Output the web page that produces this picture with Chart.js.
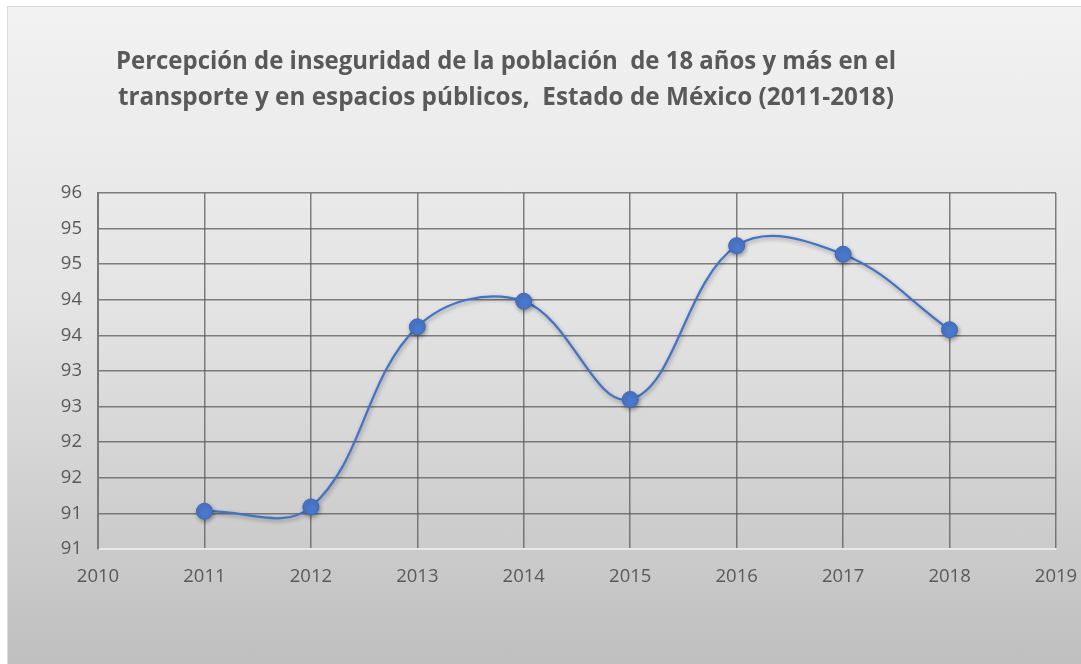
<!DOCTYPE html>
<html>
<head>
<meta charset="utf-8">
<script src="https://cdn.jsdelivr.net/npm/chart.js@4.4.1/dist/chart.umd.min.js"></script>
<style>
  html, body { margin: 0; padding: 0; background: #ffffff; }
  #wrap {
    position: absolute; left: 7px; top: 6px; width: 1074px; height: 658px;
    border-left: 1px solid #d9d9d9; border-top: 1px solid #d9d9d9;
    background: linear-gradient(to bottom, #f2f2f2 0%, #e4e4e4 45%, #bfbfbf 100%);
  }
  canvas { display: block; }
</style>
</head>
<body>
<div id="wrap"><canvas id="c" width="1074" height="658"></canvas></div>
<script>
const titleLines = [
  'Percepción de inseguridad de la población  de 18 años y más en el',
  'transporte y en espacios públicos,  Estado de México (2011-2018)'
];
const years = [2011, 2012, 2013, 2014, 2015, 2016, 2017, 2018];
const values = [91.53, 91.59, 94.12, 94.48, 93.1, 95.26, 95.14, 94.08];
const xMin = 2010, xMax = 2019;
const yMin = 91, yMax = 96, yStep = 0.5;

const titlePlugin = {
  id: 'titleDraw',
  afterDraw(chart) {
    const ctx = chart.ctx;
    ctx.save();
    ctx.fillStyle = '#595959';
    ctx.textAlign = 'center';
    ctx.textBaseline = 'middle';
    const fs = 25;
    ctx.font = 'bold ' + fs + 'px "Open Sans", sans-serif';
    const cx = 498;
    const ys = [55, 91];
    titleLines.forEach((t, i) => {
      const w = ctx.measureText(t).width;
      const target = i === 0 ? 780 : 776;
      const sx = target / w;
      ctx.save();
      ctx.translate(cx, ys[i]);
      ctx.scale(sx, 1);
      ctx.fillText(t, 0, 0);
      ctx.restore();
    });
    ctx.restore();
  }
};

const shadowPlugin = {
  id: 'shadow',
  beforeDatasetsDraw(chart) {
    const ctx = chart.ctx;
    ctx.save();
    ctx.shadowColor = 'rgba(0,0,0,0.35)';
    ctx.shadowBlur = 4;
    ctx.shadowOffsetX = 1;
    ctx.shadowOffsetY = 2;
  },
  afterDatasetsDraw(chart) {
    chart.ctx.restore();
  }
};

const tickFont = { family: '"Open Sans", sans-serif', size: 18.5 };

new Chart(document.getElementById('c'), {
  type: 'line',
  data: {
    datasets: [{
      data: years.map((y, i) => ({ x: y, y: values[i] })),
      borderColor: '#4472c4',
      borderWidth: 2.25,
      tension: 0.38,
      pointRadius: 8,
      pointBackgroundColor: '#4a78cc',
      pointBorderColor: '#3f69b6',
      pointBorderWidth: 1,
      fill: false
    }]
  },
  options: {
    responsive: false,
    animation: false,
    events: [],
    layout: { padding: { left: 0, right: 26, top: 186, bottom: 68 } },
    plugins: { legend: { display: false }, title: { display: false }, tooltip: { enabled: false } },
    scales: {
      x: {
        type: 'linear', min: xMin, max: xMax,
        afterFit: s => { s.height = 48; s.paddingRight = 0; s.paddingLeft = 0; },
        ticks: { stepSize: 1, color: '#595959', font: tickFont, padding: 17, callback: v => String(v) },
        grid: { color: 'rgba(90,90,90,0.75)', lineWidth: 1.5, drawTicks: false },
        border: { color: '#e8e8e8', width: 2 }
      },
      y: {
        min: yMin, max: yMax,
        afterFit: s => { s.width = 90; s.paddingTop = 0; s.paddingBottom = 0; },
        ticks: { stepSize: yStep, color: '#595959', font: tickFont, padding: 16, callback: v => String(Math.floor(v)) },
        grid: { color: 'rgba(90,90,90,0.75)', lineWidth: 1.5, drawTicks: false },
        border: { color: '#7a7a7a', width: 2 }
      }
    }
  },
  plugins: [titlePlugin, shadowPlugin]
});
</script>
</body>
</html>
